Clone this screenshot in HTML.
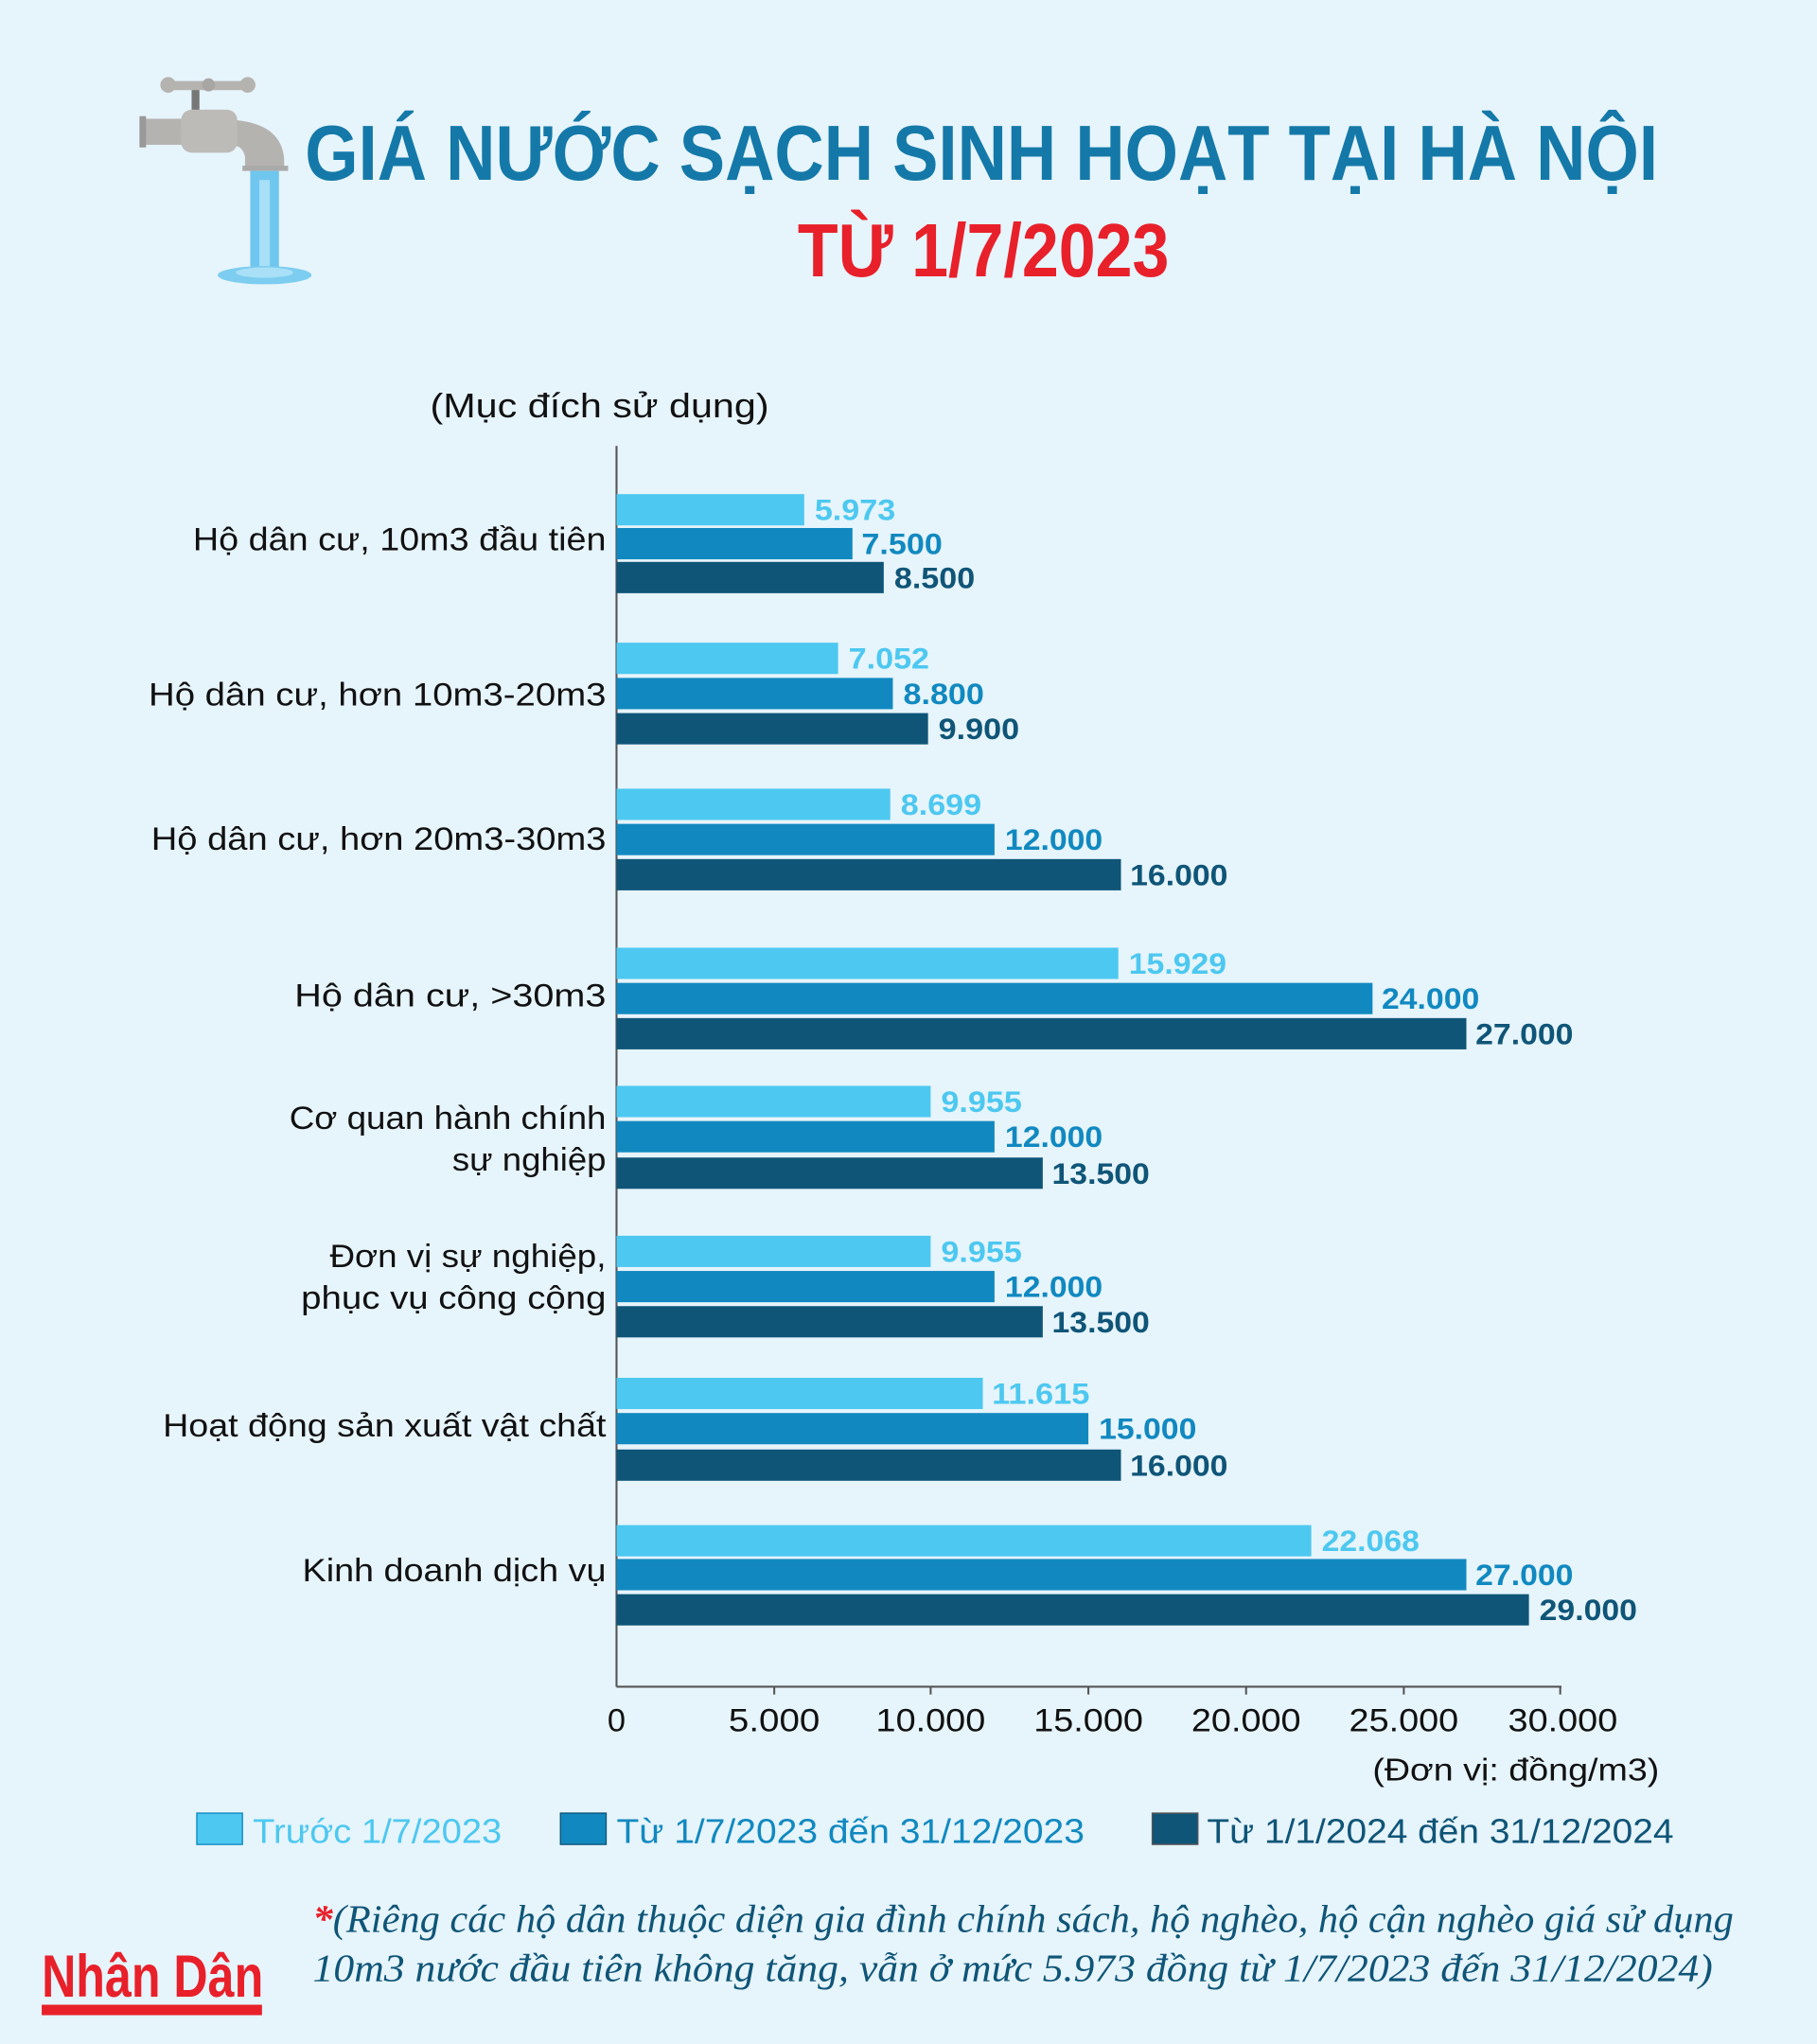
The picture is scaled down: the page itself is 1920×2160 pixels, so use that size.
<!DOCTYPE html>
<html><head><meta charset="utf-8"><style>
html,body{margin:0;padding:0;background:#E6F4FC}
svg{display:block}
text{font-family:"Liberation Sans",sans-serif}
</style></head><body>
<svg width="1920" height="2160" viewBox="0 0 1394 1568" xmlns="http://www.w3.org/2000/svg">
<rect width="1394" height="1568" fill="#E6F4FC"/>
<!-- faucet -->
<g>
<rect x="147" y="66" width="6" height="22" fill="#777"/>
<rect x="125" y="62" width="70" height="7" rx="3" fill="#b5b3b0"/>
<circle cx="129" cy="65" r="6" fill="#b5b3b0"/><circle cx="190" cy="65" r="6" fill="#b5b3b0"/><circle cx="160" cy="65" r="5" fill="#a8a6a3"/>
<rect x="110" y="91" width="35" height="20" fill="#b5b3b0"/>
<rect x="107" y="89" width="5" height="24" fill="#999"/>
<path d="M180 92 Q216 95 218 122 L218 128 L188 128 L188 120 Q186 112 180 112 Z" fill="#b5b3b0"/>
<rect x="139" y="84" width="43" height="33" rx="8" fill="#bdbbb8"/>
<rect x="186" y="127" width="35" height="4" fill="#aaa"/>
<rect x="192" y="131" width="22" height="76" fill="#6fc6ee"/>
<rect x="199" y="138" width="8" height="66" fill="#a9e0f7"/>
<ellipse cx="203" cy="211" rx="36" ry="7" fill="#7ccdf0"/>
<ellipse cx="203" cy="209" rx="22" ry="4" fill="#a9e0f7"/>
</g>
<text x="234" y="138" font-size="60" font-weight="bold" fill="#1479A8" textLength="1038" lengthAdjust="spacingAndGlyphs">GIÁ NƯỚC SẠCH SINH HOẠT TẠI HÀ NỘI</text>
<text x="612" y="212" font-size="58" font-weight="bold" fill="#E8202A" textLength="285" lengthAdjust="spacingAndGlyphs">TỪ 1/7/2023</text>
<text x="330" y="320" font-size="26" fill="#111" textLength="260" lengthAdjust="spacingAndGlyphs">(Mục đích sử dụng)</text>
<!-- axes -->
<line x1="473" y1="342" x2="473" y2="1294" stroke="#555" stroke-width="1.5"/>
<line x1="473" y1="1294" x2="1198" y2="1294" stroke="#555" stroke-width="1.5"/>
<g stroke="#555" stroke-width="1.5">
<line x1="594" y1="1294" x2="594" y2="1300"/><line x1="714" y1="1294" x2="714" y2="1300"/><line x1="835" y1="1294" x2="835" y2="1300"/><line x1="956" y1="1294" x2="956" y2="1300"/><line x1="1077" y1="1294" x2="1077" y2="1300"/><line x1="1197" y1="1294" x2="1197" y2="1300"/>
</g>
<g font-size="25" fill="#111" text-anchor="middle" lengthAdjust="spacingAndGlyphs">
<text x="473" y="1328">0</text><text x="594" y="1328" textLength="70" lengthAdjust="spacingAndGlyphs">5.000</text><text x="714" y="1328" textLength="84" lengthAdjust="spacingAndGlyphs">10.000</text><text x="835" y="1328" textLength="84" lengthAdjust="spacingAndGlyphs">15.000</text><text x="956" y="1328" textLength="84" lengthAdjust="spacingAndGlyphs">20.000</text><text x="1077" y="1328" textLength="84" lengthAdjust="spacingAndGlyphs">25.000</text><text x="1199" y="1328" textLength="84" lengthAdjust="spacingAndGlyphs">30.000</text>
</g>
<text x="1273" y="1366" font-size="24" fill="#111" text-anchor="end" textLength="220" lengthAdjust="spacingAndGlyphs">(Đơn vị: đồng/m3)</text>
<!-- category labels -->
<g font-size="25" fill="#111" text-anchor="end">
<text x="465" y="422" textLength="317" lengthAdjust="spacingAndGlyphs">Hộ dân cư, 10m3 đầu tiên</text>
<text x="465" y="541" textLength="351" lengthAdjust="spacingAndGlyphs">Hộ dân cư, hơn 10m3-20m3</text>
<text x="465" y="652" textLength="349" lengthAdjust="spacingAndGlyphs">Hộ dân cư, hơn 20m3-30m3</text>
<text x="465" y="772" textLength="239" lengthAdjust="spacingAndGlyphs">Hộ dân cư, &gt;30m3</text>
<text x="465" y="866" textLength="243" lengthAdjust="spacingAndGlyphs">Cơ quan hành chính</text><text x="465" y="898" textLength="118" lengthAdjust="spacingAndGlyphs">sự nghiệp</text>
<text x="465" y="972" textLength="212" lengthAdjust="spacingAndGlyphs">Đơn vị sự nghiệp,</text><text x="465" y="1004" textLength="234" lengthAdjust="spacingAndGlyphs">phục vụ công cộng</text>
<text x="465" y="1102" textLength="340" lengthAdjust="spacingAndGlyphs">Hoạt động sản xuất vật chất</text>
<text x="465" y="1213" textLength="233" lengthAdjust="spacingAndGlyphs">Kinh doanh dịch vụ</text>
</g>
<!-- bars -->
<g font-size="23" font-weight="bold">
<rect x="473" y="379" width="144" height="24" fill="#4DC8F0"/><text x="625" y="399" fill="#4DC8F0" textLength="62" lengthAdjust="spacingAndGlyphs">5.973</text>
<rect x="473" y="405" width="181" height="24" fill="#1189C0"/><text x="661" y="425" fill="#1189C0" textLength="62" lengthAdjust="spacingAndGlyphs">7.500</text>
<rect x="473" y="431" width="205" height="24" fill="#0F5577"/><text x="686" y="451" fill="#0F5577" textLength="62" lengthAdjust="spacingAndGlyphs">8.500</text>

<rect x="473" y="493" width="170" height="24" fill="#4DC8F0"/><text x="651" y="513" fill="#4DC8F0" textLength="62" lengthAdjust="spacingAndGlyphs">7.052</text>
<rect x="473" y="520" width="212" height="24" fill="#1189C0"/><text x="693" y="540" fill="#1189C0" textLength="62" lengthAdjust="spacingAndGlyphs">8.800</text>
<rect x="473" y="547" width="239" height="24" fill="#0F5577"/><text x="720" y="567" fill="#0F5577" textLength="62" lengthAdjust="spacingAndGlyphs">9.900</text>

<rect x="473" y="605" width="210" height="24" fill="#4DC8F0"/><text x="691" y="625" fill="#4DC8F0" textLength="62" lengthAdjust="spacingAndGlyphs">8.699</text>
<rect x="473" y="632" width="290" height="24" fill="#1189C0"/><text x="771" y="652" fill="#1189C0" textLength="75" lengthAdjust="spacingAndGlyphs">12.000</text>
<rect x="473" y="659" width="387" height="24" fill="#0F5577"/><text x="867" y="679" fill="#0F5577" textLength="75" lengthAdjust="spacingAndGlyphs">16.000</text>

<rect x="473" y="727" width="385" height="24" fill="#4DC8F0"/><text x="866" y="747" fill="#4DC8F0" textLength="75" lengthAdjust="spacingAndGlyphs">15.929</text>
<rect x="473" y="754" width="580" height="24" fill="#1189C0"/><text x="1060" y="774" fill="#1189C0" textLength="75" lengthAdjust="spacingAndGlyphs">24.000</text>
<rect x="473" y="781" width="652" height="24" fill="#0F5577"/><text x="1132" y="801" fill="#0F5577" textLength="75" lengthAdjust="spacingAndGlyphs">27.000</text>

<rect x="473" y="833" width="241" height="24" fill="#4DC8F0"/><text x="722" y="853" fill="#4DC8F0" textLength="62" lengthAdjust="spacingAndGlyphs">9.955</text>
<rect x="473" y="860" width="290" height="24" fill="#1189C0"/><text x="771" y="880" fill="#1189C0" textLength="75" lengthAdjust="spacingAndGlyphs">12.000</text>
<rect x="473" y="888" width="327" height="24" fill="#0F5577"/><text x="807" y="908" fill="#0F5577" textLength="75" lengthAdjust="spacingAndGlyphs">13.500</text>

<rect x="473" y="948" width="241" height="24" fill="#4DC8F0"/><text x="722" y="968" fill="#4DC8F0" textLength="62" lengthAdjust="spacingAndGlyphs">9.955</text>
<rect x="473" y="975" width="290" height="24" fill="#1189C0"/><text x="771" y="995" fill="#1189C0" textLength="75" lengthAdjust="spacingAndGlyphs">12.000</text>
<rect x="473" y="1002" width="327" height="24" fill="#0F5577"/><text x="807" y="1022" fill="#0F5577" textLength="75" lengthAdjust="spacingAndGlyphs">13.500</text>

<rect x="473" y="1057" width="281" height="24" fill="#4DC8F0"/><text x="761" y="1077" fill="#4DC8F0" textLength="75" lengthAdjust="spacingAndGlyphs">11.615</text>
<rect x="473" y="1084" width="362" height="24" fill="#1189C0"/><text x="843" y="1104" fill="#1189C0" textLength="75" lengthAdjust="spacingAndGlyphs">15.000</text>
<rect x="473" y="1112" width="387" height="24" fill="#0F5577"/><text x="867" y="1132" fill="#0F5577" textLength="75" lengthAdjust="spacingAndGlyphs">16.000</text>

<rect x="473" y="1170" width="533" height="24" fill="#4DC8F0"/><text x="1014" y="1190" fill="#4DC8F0" textLength="75" lengthAdjust="spacingAndGlyphs">22.068</text>
<rect x="473" y="1196" width="652" height="24" fill="#1189C0"/><text x="1132" y="1216" fill="#1189C0" textLength="75" lengthAdjust="spacingAndGlyphs">27.000</text>
<rect x="473" y="1223" width="700" height="24" fill="#0F5577"/><text x="1181" y="1243" fill="#0F5577" textLength="75" lengthAdjust="spacingAndGlyphs">29.000</text>
</g>
<!-- legend -->
<rect x="151" y="1391" width="35" height="24" fill="#4DC8F0" stroke="#1189C0" stroke-width="1"/>
<text x="194" y="1414" font-size="26" fill="#4DC8F0" textLength="191" lengthAdjust="spacingAndGlyphs">Trước 1/7/2023</text>
<rect x="430" y="1391" width="35" height="24" fill="#1189C0" stroke="#0F5577" stroke-width="1"/>
<text x="473" y="1414" font-size="26" fill="#1189C0" textLength="359" lengthAdjust="spacingAndGlyphs">Từ 1/7/2023 đến 31/12/2023</text>
<rect x="884" y="1391" width="35" height="24" fill="#0F5577" stroke="#555" stroke-width="1"/>
<text x="926" y="1414" font-size="26" fill="#0F5577" textLength="358" lengthAdjust="spacingAndGlyphs">Từ 1/1/2024 đến 31/12/2024</text>
<!-- footnote -->
<text x="240" y="1482" font-size="30" font-style="italic" fill="#0F5577" style="font-family:'Liberation Serif',serif" textLength="1090" lengthAdjust="spacingAndGlyphs"><tspan fill="#E8202A" font-weight="bold">*</tspan>(Riêng các hộ dân thuộc diện gia đình chính sách, hộ nghèo, hộ cận nghèo giá sử dụng</text>
<text x="240" y="1520" font-size="30" font-style="italic" fill="#0F5577" style="font-family:'Liberation Serif',serif" textLength="1074" lengthAdjust="spacingAndGlyphs">10m3 nước đầu tiên không tăng, vẫn ở mức 5.973 đồng từ 1/7/2023 đến 31/12/2024)</text>
<text x="32" y="1532" font-size="46" font-weight="bold" fill="#E8202A" textLength="170" lengthAdjust="spacingAndGlyphs">Nhân Dân</text>
<rect x="32" y="1538" width="169" height="8" fill="#E8202A"/>
</svg>
</body></html>
